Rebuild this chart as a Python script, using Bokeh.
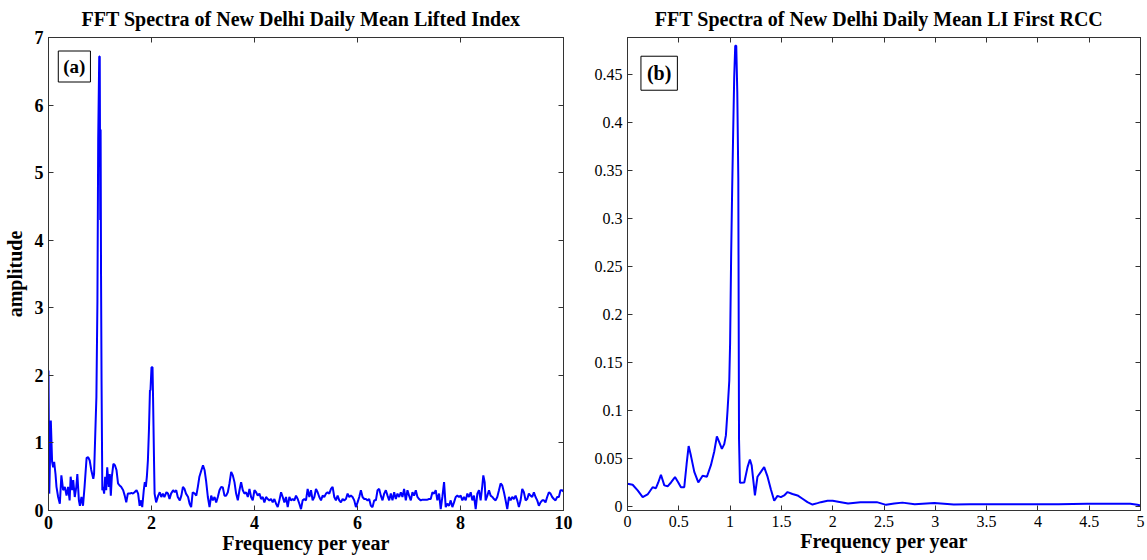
from bokeh.plotting import figure
from bokeh.models import (LinearAxis, Range1d, Label, FixedTicker, ColumnDataSource,
                          CustomLabelingPolicy)
from bokeh.layouts import row
from bokeh.embed import file_html
from bokeh.resources import INLINE

# ---- Panel (a): FFT amplitude of daily mean Lifted Index ----
freq_a = [
    0.00, 0.015, 0.045, 0.07, 0.09, 0.11, 0.136, 0.155, 0.187, 0.22, 0.25, 0.284, 0.317,
    0.35, 0.38, 0.41, 0.43, 0.46, 0.48, 0.51, 0.54, 0.56, 0.59, 0.61, 0.64, 0.67, 0.70,
    0.74, 0.77, 0.80, 0.83, 0.87, 0.885, 0.91, 0.93, 0.95, 0.965, 0.985, 0.995, 1.005,
    1.012, 1.02, 1.03, 1.045, 1.06, 1.08, 1.10, 1.12, 1.14, 1.17, 1.19, 1.21, 1.23, 1.26,
    1.29, 1.32, 1.35, 1.38, 1.41, 1.45, 1.48, 1.51, 1.54, 1.58, 1.61, 1.64, 1.67, 1.71,
    1.74, 1.77, 1.80, 1.82, 1.85, 1.87, 1.89, 1.91, 1.93, 1.95, 1.97, 1.98, 2.00, 2.02,
    2.03, 2.05, 2.06, 2.09, 2.13, 2.16, 2.19, 2.22, 2.25, 2.29, 2.32, 2.35, 2.38, 2.42,
    2.45, 2.48, 2.51, 2.55, 2.58, 2.61, 2.64, 2.67, 2.71, 2.74, 2.77, 2.80, 2.84, 2.87,
    2.90, 2.93, 2.97, 3.00, 3.03, 3.06,
    3.094, 3.127, 3.159, 3.191, 3.224, 3.256, 3.288, 3.320, 3.353, 3.385, 3.417, 3.450,
    3.482, 3.514, 3.547, 3.579, 3.611, 3.643, 3.676, 3.708, 3.740, 3.773, 3.805, 3.837,
    3.870, 3.902, 3.934, 3.966, 3.999, 4.031, 4.063, 4.096, 4.128, 4.160, 4.192, 4.225,
    4.257, 4.289, 4.322, 4.354, 4.386, 4.419, 4.451, 4.483, 4.516, 4.548, 4.580, 4.612,
    4.645, 4.677, 4.709, 4.742, 4.774, 4.806, 4.839, 4.871, 4.903, 4.935, 4.968, 5.000,
    5.032, 5.065, 5.097, 5.129, 5.162, 5.194, 5.226, 5.258, 5.291, 5.323, 5.355, 5.388,
    5.420, 5.452, 5.485, 5.517, 5.549, 5.581, 5.614, 5.646, 5.678, 5.711, 5.743, 5.775,
    5.808, 5.840, 5.872, 5.904, 5.937, 5.969, 6.001, 6.034, 6.066, 6.098, 6.131, 6.163,
    6.195, 6.227, 6.260, 6.292, 6.324, 6.357, 6.389, 6.421, 6.453, 6.486, 6.518, 6.550,
    6.583, 6.615, 6.647,
    6.679, 6.712, 6.744, 6.776, 6.809, 6.841, 6.873, 6.905, 6.938, 6.970, 7.002, 7.035,
    7.067, 7.099, 7.132, 7.164, 7.196, 7.228, 7.261, 7.293, 7.325, 7.358, 7.390, 7.422,
    7.455, 7.487, 7.519, 7.551, 7.584, 7.616, 7.648, 7.681, 7.713, 7.745, 7.778, 7.810,
    7.842, 7.874, 7.907, 7.939, 7.971, 8.004, 8.036, 8.068, 8.101, 8.133, 8.165, 8.198,
    8.230, 8.262, 8.295, 8.327, 8.359, 8.391, 8.424, 8.443, 8.469, 8.488, 8.521, 8.553,
    8.585, 8.618, 8.650, 8.682, 8.714, 8.747, 8.779, 8.811, 8.844, 8.876, 8.908, 8.941,
    8.973, 9.005, 9.037, 9.070, 9.102, 9.134, 9.167, 9.199, 9.231, 9.264, 9.296, 9.328,
    9.360, 9.393, 9.425, 9.457, 9.490, 9.522, 9.554, 9.587, 9.619, 9.651, 9.683, 9.716,
    9.748, 9.780, 9.813, 9.845, 9.877, 9.910, 9.942, 9.974, 10.0,
]
amp_a = [
    2.07, 0.25, 1.33, 0.72, 0.64, 0.72, 0.54, 0.35, 0.20, 0.10, 0.52, 0.30, 0.35,
    0.22, 0.35, 0.15, 0.50, 0.30, 0.45, 0.20, 0.35, 0.54, 0.15, 0.07, 0.20, 0.07, 0.35,
    0.78, 0.79, 0.74, 0.60, 0.47, 0.54, 1.18, 1.68, 3.10, 5.50, 6.72, 6.72, 4.30,
    5.64, 3.50, 1.92, 0.30, 0.35, 0.25, 0.50, 0.30, 0.64, 0.35, 0.54, 0.22, 0.50, 0.69,
    0.67, 0.60, 0.40, 0.37, 0.35, 0.30, 0.22, 0.12, 0.25, 0.25, 0.26, 0.25, 0.27, 0.30,
    0.25, 0.07, 0.15, 0.05, 0.30, 0.42, 0.35, 0.50, 0.74, 1.18, 1.78, 1.78, 2.12, 2.12,
    1.68, 0.69, 0.25, 0.12, 0.22, 0.27, 0.20, 0.25, 0.20, 0.27, 0.25, 0.17, 0.25, 0.30,
    0.27, 0.30, 0.20, 0.15, 0.22, 0.35, 0.32, 0.25, 0.20, 0.10, 0.05, 0.27, 0.25, 0.22,
    0.35, 0.50, 0.60, 0.67, 0.60, 0.44,
    0.20, 0.05, 0.22, 0.15, 0.20, 0.12, 0.20, 0.30, 0.35, 0.34, 0.22, 0.22,
    0.27, 0.40, 0.57, 0.52, 0.42, 0.25, 0.15, 0.30, 0.42, 0.30, 0.25, 0.27,
    0.20, 0.32, 0.20, 0.15, 0.30, 0.27, 0.22, 0.25, 0.17, 0.20, 0.12, 0.20,
    0.17, 0.15, 0.17, 0.12, 0.17, 0.10, 0.05, 0.15, 0.27, 0.20, 0.12, 0.20,
    0.05, 0.20, 0.15, 0.17, 0.15, 0.22, 0.17, 0.10, 0.02, 0.15, 0.17, 0.15,
    0.32, 0.20, 0.30, 0.15, 0.20, 0.32, 0.27, 0.20, 0.15, 0.22, 0.20, 0.25,
    0.27, 0.25, 0.32, 0.35, 0.20, 0.15, 0.22, 0.15, 0.12, 0.17, 0.15, 0.17,
    0.25, 0.20, 0.22, 0.20, 0.15, 0.05, 0.12, 0.20, 0.30, 0.20, 0.17, 0.17,
    0.15, 0.17, 0.07, 0.05, 0.15, 0.15, 0.30, 0.32, 0.22, 0.15, 0.25, 0.30,
    0.22, 0.15, 0.25,
    0.15, 0.27, 0.17, 0.25, 0.20, 0.27, 0.20, 0.32, 0.15, 0.30, 0.22, 0.15,
    0.27, 0.22, 0.30, 0.20, 0.17, 0.15, 0.16, 0.16, 0.16, 0.16, 0.17, 0.17,
    0.27, 0.25, 0.30, 0.15, 0.25, 0.02, 0.20, 0.42, 0.05, 0.10, 0.07, 0.15,
    0.05, 0.12, 0.20, 0.22, 0.20, 0.22, 0.15, 0.20, 0.15, 0.25, 0.20, 0.27,
    0.15, 0.22, 0.02, 0.25, 0.30, 0.15, 0.37, 0.52, 0.42, 0.15, 0.22, 0.30,
    0.22, 0.20, 0.17, 0.15, 0.20, 0.30, 0.40, 0.37, 0.27, 0.15, 0.02, 0.20,
    0.15, 0.20, 0.17, 0.22, 0.15, 0.05, 0.15, 0.32, 0.27, 0.15, 0.17, 0.25,
    0.22, 0.20, 0.27, 0.20, 0.15, 0.07, 0.12, 0.15, 0.15, 0.12, 0.20, 0.27,
    0.25, 0.20, 0.17, 0.15, 0.20, 0.20, 0.30, 0.30, 0.28,
]

# ---- Panel (b): FFT amplitude of the first RCC ----
freq_b = [
    0.00, 0.05, 0.099, 0.148, 0.196, 0.245, 0.277, 0.30, 0.326, 0.359, 0.391, 0.424,
    0.463, 0.495, 0.521, 0.553, 0.576, 0.596, 0.618, 0.651, 0.69, 0.732, 0.774, 0.813,
    0.845, 0.871, 0.894, 0.92, 0.943, 0.959, 0.975, 0.992, 1.00, 1.01, 1.02, 1.03,
    1.04, 1.05, 1.06, 1.07, 1.08, 1.087, 1.096, 1.138, 1.17, 1.193, 1.21, 1.23, 1.242,
    1.267, 1.30, 1.332, 1.365, 1.397, 1.43, 1.462, 1.495, 1.527, 1.56, 1.608, 1.657,
    1.706, 1.754, 1.803, 1.852, 1.884, 1.95, 2.00, 2.08, 2.15, 2.27, 2.43, 2.52, 2.60,
    2.68, 2.80, 2.99, 3.18, 3.34, 3.50, 3.80, 4.20, 4.48, 4.70, 4.90, 4.97, 5.00,
]
amp_b = [
    0.0236, 0.0226, 0.0167, 0.0097, 0.0125, 0.0200, 0.0190, 0.0250, 0.0330, 0.0220,
    0.0210, 0.0250, 0.0306, 0.0250, 0.0200, 0.0200, 0.0440, 0.0630, 0.0530, 0.0360,
    0.0250, 0.0320, 0.0310, 0.0430, 0.0570, 0.0730, 0.0670, 0.0600, 0.0650, 0.0740,
    0.1000, 0.1310, 0.1700, 0.2600, 0.3300, 0.3900, 0.4470, 0.4800, 0.4800, 0.4320,
    0.3420, 0.0700, 0.0247, 0.0250, 0.0410, 0.0490, 0.0430, 0.0236, 0.0115, 0.0310,
    0.0360, 0.0410, 0.0310, 0.0180, 0.0060, 0.0110, 0.0097, 0.0115, 0.0150, 0.0130,
    0.0115, 0.0080, 0.0045, 0.0020, 0.0035, 0.0045, 0.0060, 0.0060, 0.0045, 0.0030,
    0.0045, 0.0045, 0.0017, 0.0030, 0.0040, 0.0024, 0.0035, 0.0020, 0.0024, 0.0024,
    0.0024, 0.0024, 0.0028, 0.0028, 0.0028, 0.0017, 0.0010,
]

ticks_a_x = [0, 2, 4, 6, 8, 10]
ticks_a_y = [0, 1, 2, 3, 4, 5, 6, 7]
ticks_b_x = [0, 0.5, 1, 1.5, 2, 2.5, 3, 3.5, 4, 4.5, 5]
ticks_b_y = [0, 0.05, 0.1, 0.15, 0.2, 0.25, 0.3, 0.35, 0.4, 0.45]

SERIF = "Liberation Serif"
FRAME = "#333333"


def style_axis(ax, ticks, size, style, labels=True):
    ax.ticker = FixedTicker(ticks=ticks)
    ax.major_tick_in = 5
    ax.major_tick_out = 0
    ax.minor_tick_line_color = None
    ax.axis_line_color = FRAME
    ax.major_tick_line_color = FRAME
    ax.major_label_text_font = SERIF
    ax.major_label_text_font_style = style
    ax.major_label_text_color = "black"
    if labels:
        ax.major_label_text_font_size = size
        ax.major_label_standoff = 5
    else:
        # box-style mirror axis: ticks only, no numbers
        ax.major_label_text_font_size = "1px"
        ax.major_label_standoff = 0
        ax.major_label_policy = CustomLabelingPolicy(code="return new Set()")
    ax.axis_label_text_font = SERIF
    ax.axis_label_text_font_style = "bold"
    ax.axis_label_text_font_size = "20px"
    ax.axis_label_text_color = "black"


def make_panel(title, xs, ys, xr, yr, xt, yt, size, style, width, border_right, ylabel):
    p = figure(width=width, height=560, output_backend="svg", toolbar_location=None,
               x_range=Range1d(*xr), y_range=Range1d(*yr),
               min_border_left=47, min_border_right=border_right,
               min_border_top=37, min_border_bottom=50)
    p.grid.visible = False
    p.outline_line_color = FRAME
    p.background_fill_color = "white"
    p.border_fill_color = "white"
    p.title.text = title
    p.title.align = "center"
    p.title.text_font = SERIF
    p.title.text_font_style = "bold"
    p.title.text_font_size = "20px"
    p.title.text_color = "black"
    p.title.standoff = 8

    style_axis(p.xaxis[0], xt, size, style)
    style_axis(p.yaxis[0], yt, size, style)
    p.xaxis[0].axis_label = "Frequency per year"
    p.xaxis[0].axis_label_standoff = 0
    if ylabel:
        p.yaxis[0].axis_label = ylabel
        p.yaxis[0].axis_label_standoff = 6

    top = LinearAxis()
    style_axis(top, xt, size, style, labels=False)
    p.add_layout(top, "above")
    right = LinearAxis()
    style_axis(right, yt, size, style, labels=False)
    p.add_layout(right, "right")

    src = ColumnDataSource(data=dict(f=xs, a=ys))
    p.line("f", "a", source=src, line_color="#0000ff", line_width=2)
    return p


p1 = make_panel("FFT Spectra  of  New Delhi Daily Mean Lifted Index",
                freq_a, amp_a, (0, 10), (0, 7), ticks_a_x, ticks_a_y,
                "18px", "bold", 580, 17, "amplitude")
p1.add_layout(Label(x=0.19, y=6.80, text="(a)", anchor="top_left",
                    text_font=SERIF, text_font_style="bold", text_font_size="19px",
                    text_color="black",
                    border_line_color="black", border_line_width=1,
                    background_fill_color="white", padding=5))

p2 = make_panel("FFT Spectra  of  New Delhi Daily Mean LI First RCC",
                freq_b, amp_b, (0, 5), (-0.0042, 0.4885), ticks_b_x, ticks_b_y,
                "16px", "normal", 567, 7, None)
p2.add_layout(Label(x=0.131, y=0.469, text="(b)", anchor="top_left",
                    text_font=SERIF, text_font_style="bold", text_font_size="20px",
                    text_color="black",
                    border_line_color="black", border_line_width=1,
                    background_fill_color="white", padding=6))

layout = row(p1, p2)
open("out.html", "w").write(file_html(layout, INLINE))
